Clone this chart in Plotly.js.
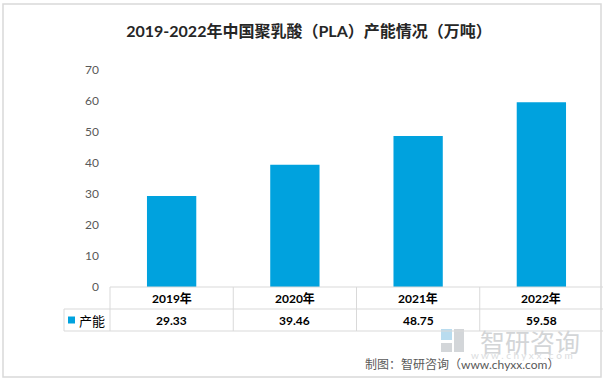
<!DOCTYPE html>
<html>
<head>
<meta charset="utf-8">
<script src="https://cdn.plot.ly/plotly-3.0.1.min.js"></script>
<style>html,body{margin:0;padding:0;background:#fff;}#chart{width:608px;height:382px;}</style>
</head>
<body>
<div id="chart"></div>
<script>
const years = ['2019年', '2020年', '2021年', '2022年'];
const capacity = [29.33, 39.46, 48.75, 59.58];
const seriesName = '产能';
const yTicks = [0, 10, 20, 30, 40, 50, 60, 70];
const titleText = '2019-2022年中国聚乳酸（PLA）产能情况（万吨）';
const sourceText = '制图：智研咨询（www.chyxx.com）';

const W = 608, H = 382;
const L = 110, R = 603, T = 70, B = 287;
const px = x => (x - L) / (R - L);
const py = y => (B - y) / (B - T);
const FONT = 'Lato, "Noto Sans CJK SC", sans-serif';
const lineCol = '#d9d9d9';

const shapes = [];
const annotations = [];
function hline(x0, x1, y) {
  shapes.push({type: 'line', xref: 'paper', yref: 'paper', x0: px(x0), x1: px(x1), y0: py(y), y1: py(y), line: {color: lineCol, width: 1}});
}
function vline(x, y0, y1) {
  shapes.push({type: 'line', xref: 'paper', yref: 'paper', x0: px(x), x1: px(x), y0: py(y0), y1: py(y1), line: {color: lineCol, width: 1}});
}
// outer frame
shapes.push({type: 'rect', xref: 'paper', yref: 'paper', x0: px(3), x1: px(601), y0: py(377), y1: py(4), line: {color: lineCol, width: 1.5}, layer: 'below'});
// table grid
const rowTop = 287, rowMid = 309, rowBot = 331;
hline(L, R, rowTop);
hline(64, R, rowMid);
hline(64, R, rowBot);
vline(64, rowMid, rowBot);
for (let i = 0; i < years.length; i++) {
  vline(L + i * (R - L) / years.length, rowTop, rowBot);
}
// table texts from data
years.forEach((yr, i) => {
  annotations.push({xref: 'x', yref: 'paper', x: yr, y: py((rowTop + rowMid) / 2), text: '<b>' + yr + '</b>', showarrow: false, font: {family: FONT, size: 12, color: '#000'}, xanchor: 'center', yanchor: 'middle'});
  annotations.push({xref: 'x', yref: 'paper', x: yr, y: py((rowMid + rowBot) / 2), text: '<b>' + capacity[i].toFixed(2) + '</b>', showarrow: false, font: {family: FONT, size: 12, color: '#000'}, xanchor: 'center', yanchor: 'middle'});
});
// legend key in table
shapes.push({type: 'rect', xref: 'paper', yref: 'paper', x0: px(68), x1: px(75), y0: py(323.5), y1: py(316.5), fillcolor: '#00a2de', line: {width: 0}});
annotations.push({xref: 'paper', yref: 'paper', x: px(77), y: py(320), text: seriesName, showarrow: false, font: {family: '"Noto Sans CJK SC", sans-serif', size: 13, color: '#000'}, xanchor: 'left', yanchor: 'middle'});

// watermark logo
shapes.push({type: 'rect', xref: 'paper', yref: 'paper', x0: px(441), x1: px(452), y0: py(340), y1: py(329), fillcolor: '#b9dcef', line: {width: 0}, layer: 'below'});
shapes.push({type: 'rect', xref: 'paper', yref: 'paper', x0: px(454), x1: px(464), y0: py(352), y1: py(329), fillcolor: '#d3d6d9', line: {width: 0}, layer: 'below'});
shapes.push({type: 'rect', xref: 'paper', yref: 'paper', x0: px(441), x1: px(452), y0: py(352), y1: py(343), fillcolor: '#d3d6d9', line: {width: 0}, layer: 'below'});
annotations.push({xref: 'paper', yref: 'paper', x: px(530), y: py(341), text: '智研咨询', showarrow: false, font: {family: '"Noto Sans CJK SC", sans-serif', size: 25, color: '#d3d5d7'}, xanchor: 'center', yanchor: 'middle'});
annotations.push({xref: 'paper', yref: 'paper', x: px(522), y: py(355), text: 'w w w . c h y x x . c o m', showarrow: false, font: {family: 'Lato, sans-serif', size: 10, color: '#dadcde'}, xanchor: 'center', yanchor: 'middle'});
// source
annotations.push({xref: 'paper', yref: 'paper', x: px(363), y: py(364), text: sourceText, showarrow: false, font: {family: 'Lato, "Noto Sans CJK SC", sans-serif', size: 12, color: '#595959'}, xanchor: 'left', yanchor: 'middle'});

const trace = {
  type: 'bar', x: years, y: capacity, name: seriesName,
  marker: {color: '#00a2de', line: {width: 0}},
  hoverinfo: 'x+y'
};

const layout = {
  width: W, height: H,
  margin: {l: L, r: W - R, t: T, b: H - B, pad: 0},
  paper_bgcolor: '#fff', plot_bgcolor: 'rgba(0,0,0,0)',
  showlegend: false,
  bargap: 0.6,
  title: {text: '<b>' + titleText + '</b>', x: 309 / W, xanchor: 'center', xref: 'container', y: 1 - 31 / H, yanchor: 'middle', yref: 'container', font: {family: 'Lato, "Noto Sans CJK SC", sans-serif', size: 16, color: '#262626'}},
  xaxis: {type: 'category', range: [-0.5, years.length - 0.5], showticklabels: false, showgrid: false, zeroline: false, showline: false, ticks: '', fixedrange: true},
  yaxis: {range: [0, 70], tickvals: yTicks, ticktext: yTicks.map(String), showgrid: false, zeroline: false, showline: false, ticks: '', ticklabelstandoff: 10, tickfont: {family: 'Lato, sans-serif', size: 12, color: '#595959'}, fixedrange: true},
  shapes: shapes,
  annotations: annotations
};

Plotly.newPlot('chart', [trace], layout, {displayModeBar: false, staticPlot: true});
</script>
</body>
</html>
